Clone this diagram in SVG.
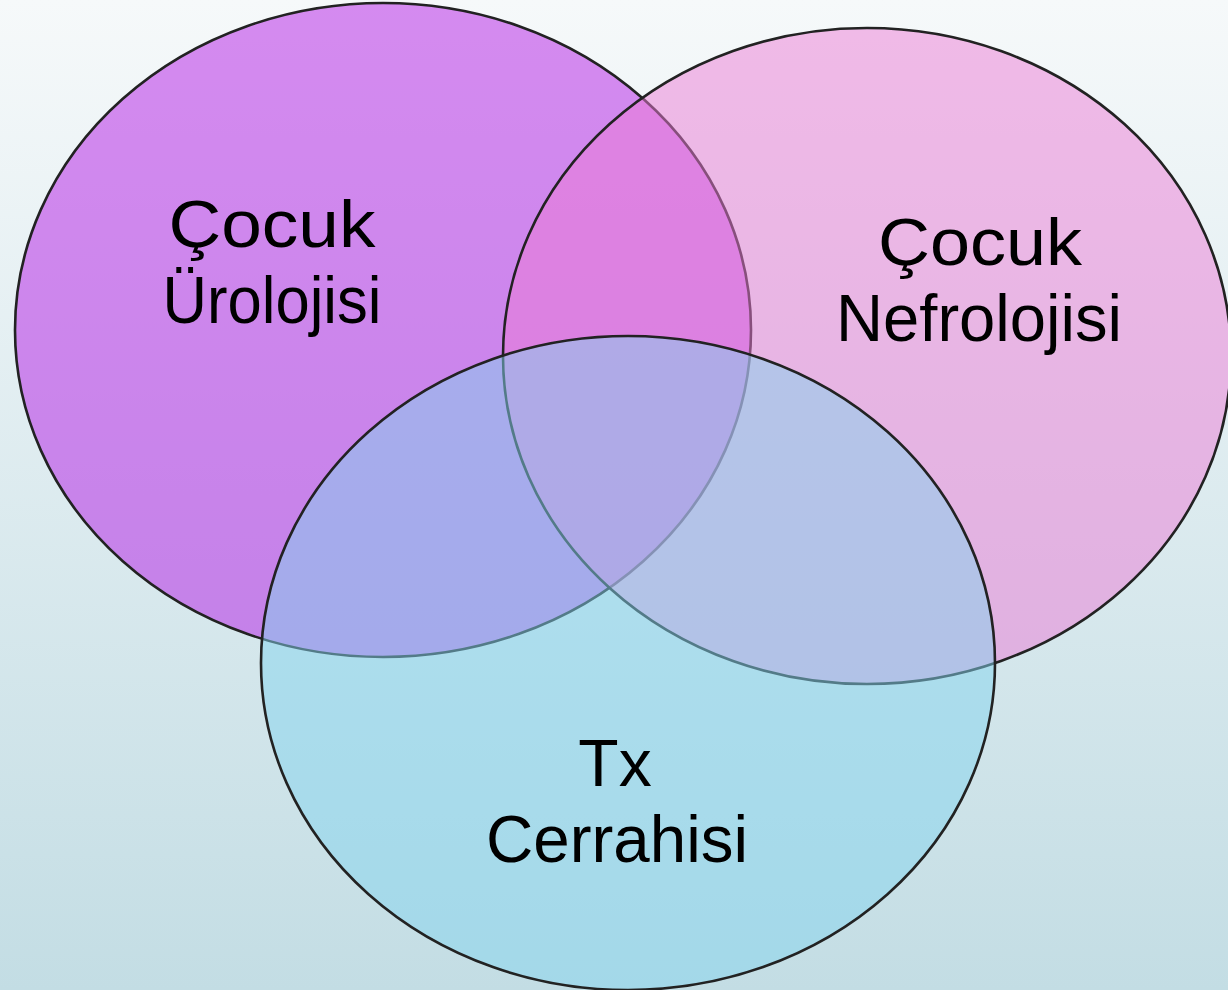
<svg xmlns="http://www.w3.org/2000/svg" width="1228" height="990" viewBox="0 0 1228 990">
<defs>
<linearGradient id="bg" x1="0" y1="0" x2="0" y2="1">
<stop offset="0" stop-color="#f6f9fa"/>
<stop offset="1" stop-color="#c3dde4"/>
</linearGradient>
<style>
.c{stroke:#222;stroke-width:2.6;fill-opacity:0.5}
.t{font-family:"Liberation Sans",Arial,sans-serif;font-size:66px;fill:#000;text-anchor:middle}
</style>
</defs>
<rect width="1228" height="990" fill="url(#bg)"/>
<g id="uroloji">
<ellipse class="c" cx="383" cy="330" rx="368" ry="327" fill="#b31ce6"/>
<text class="t" x="272" y="247" textLength="207" lengthAdjust="spacingAndGlyphs">Çocuk</text>
<text class="t" x="272" y="323" textLength="219" lengthAdjust="spacingAndGlyphs">Ürolojisi</text>
</g>
<g id="nefroloji">
<ellipse class="c" cx="867" cy="356" rx="364" ry="328" fill="#eb7cd6"/>
<text class="t" x="980" y="265" textLength="204" lengthAdjust="spacingAndGlyphs">Çocuk</text>
<text class="t" x="979" y="341" textLength="286" lengthAdjust="spacingAndGlyphs">Nefrolojisi</text>
</g>
<g id="tx">
<ellipse class="c" cx="628" cy="663" rx="367" ry="327" fill="#84d4ee"/>
<text class="t" x="615" y="786">Tx</text>
<text class="t" x="617" y="862" textLength="262" lengthAdjust="spacingAndGlyphs">Cerrahisi</text>
</g>
</svg>
